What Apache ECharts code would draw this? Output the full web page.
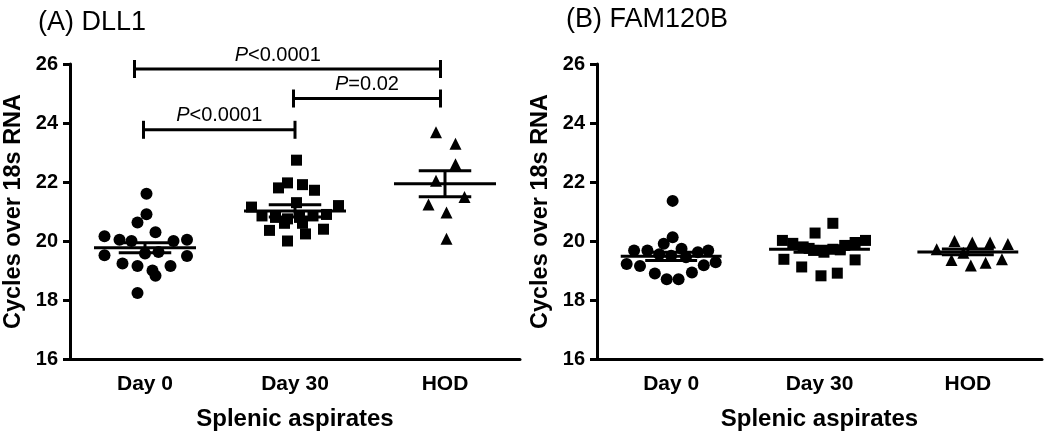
<!DOCTYPE html>
<html><head><meta charset="utf-8">
<script src="https://cdn.jsdelivr.net/npm/echarts@6/dist/echarts.min.js"></script>
<style>html,body{margin:0;padding:0;background:#fff}#c{width:1050px;height:436px}</style>
</head><body><div id="c"></div>
<script>
// ---- data ----
const categories = ['Day 0', 'Day 30', 'HOD'];
const yTicks = [16, 18, 20, 22, 24, 26];

// Panel A: DLL1 (cycles over 18s RNA)
const dll1Day0  = [21.60, 20.91, 20.63, 20.30, 20.16, 20.04, 20.00, 20.00, 20.04, 19.52, 19.49, 19.58, 19.63, 19.24, 19.15, 19.15, 19.00, 18.82, 18.24];
const dll1Day30 = [22.74, 21.97, 21.80, 21.91, 21.72, 21.30, 21.15, 21.20, 20.85, 20.80, 20.75, 20.80, 20.85, 20.90, 20.60, 20.60, 20.36, 20.00, 20.24, 20.40];
const dll1HOD   = [23.69, 23.30, 22.60, 22.04, 21.49, 21.24, 20.97, 20.08];
const dll1Mean  = [19.77, 21.02, 21.94];
const dll1Sem   = [0.17, 0.21, 0.44];

// Panel B: FAM120B
const famDay0  = [21.36, 20.13, 19.91, 19.74, 19.68, 19.68, 19.62, 19.68, 19.55, 19.22, 19.15, 18.90, 18.70, 18.70, 18.93, 19.18, 19.28, 19.50, 19.45];
const famDay30 = [20.60, 20.27, 20.02, 19.92, 19.80, 19.68, 19.62, 19.72, 19.85, 19.95, 20.02, 19.38, 19.12, 18.82, 18.91, 19.36, 19.75, 19.70];
const famHOD   = [19.72, 20.00, 19.95, 19.95, 19.90, 19.36, 19.17, 19.26, 19.38, 19.60];
const famMean  = [19.48, 19.72, 19.63];
const famSem   = [0.14, 0.10, 0.10];

// horizontal scatter offsets (fraction of category width), same order as values
const jitDll1Day0  = [0.01, 0.01, -0.05, 0.07, -0.27, -0.17, -0.09, 0.19, 0.28, -0.27, 0.28, 0.00, 0.09, -0.15, -0.05, 0.17, 0.05, 0.07, -0.05];
const jitDll1Day30 = [0.01, -0.05, -0.11, 0.05, 0.13, 0.01, -0.29, 0.29, -0.22, -0.13, -0.05, 0.03, 0.12, 0.21, -0.07, 0.05, -0.17, -0.05, 0.07, 0.19];
const jitDll1HOD   = [-0.06, 0.07, 0.07, -0.06, 0.13, -0.11, 0.01, 0.01];
const jitFamDay0   = [0.01, 0.01, -0.05, 0.07, -0.25, -0.16, 0.18, 0.25, -0.08, -0.30, -0.21, -0.11, -0.03, 0.05, 0.14, 0.22, 0.30, 0.00, 0.10];
const jitFamDay30  = [0.09, -0.03, -0.25, -0.18, -0.11, -0.04, 0.03, 0.09, 0.17, 0.24, 0.31, -0.24, -0.12, 0.01, 0.12, 0.24, -0.07, 0.14];
const jitFamHOD    = [-0.21, -0.09, 0.03, 0.15, 0.27, -0.11, 0.02, 0.12, 0.23, -0.03];

// significance brackets (panel A): from, to, height, label position
const bracketFrom   = [-0.07, 0.99, -0.01];
const bracketTo     = [1.97, 1.97, 1.00];
const bracketY      = [25.83, 24.83, 23.77];
const bracketLabelX = [0.885, 1.48, 0.495];
const bracketLabels = ['{i|P}<0.0001', '{i|P}=0.02', '{i|P}<0.0001'];

// ---- chart ----
const FONT = 'Arial, "Liberation Sans", sans-serif';
const chart = echarts.init(document.getElementById('c'), null, {renderer: 'canvas'});

function pts(vals, jit, idx) { return vals.map((v, i) => [idx + jit[i], v]); }

function meanSemItem(params, api) {
  const idx = api.value(0), m = api.value(1), s = api.value(2);
  const c = api.coord([idx, m]);
  const t = api.coord([idx, m + s]);
  const b = api.coord([idx, m - s]);
  const w = api.size([1, 0])[0];
  const lw = w * 0.34, sw = w * 0.175;
  const st = {stroke: '#000', lineWidth: 3};
  return {type: 'group', children: [
    {type: 'line', shape: {x1: c[0] - lw, y1: c[1], x2: c[0] + lw, y2: c[1]}, style: st},
    {type: 'line', shape: {x1: c[0], y1: t[1], x2: c[0], y2: b[1]}, style: st},
    {type: 'line', shape: {x1: c[0] - sw, y1: t[1], x2: c[0] + sw, y2: t[1]}, style: st},
    {type: 'line', shape: {x1: c[0] - sw, y1: b[1], x2: c[0] + sw, y2: b[1]}, style: st}
  ]};
}

function bracketItem(params, api) {
  const p1 = api.coord([api.value(0), api.value(2)]);
  const p2 = api.coord([api.value(1), api.value(2)]);
  const lx = api.coord([api.value(3), api.value(2)])[0];
  const cap = 9;
  const st = {stroke: '#000', lineWidth: 3};
  return {type: 'group', children: [
    {type: 'line', shape: {x1: p1[0], y1: p1[1], x2: p2[0], y2: p2[1]}, style: st},
    {type: 'line', shape: {x1: p1[0], y1: p1[1] - cap, x2: p1[0], y2: p1[1] + cap}, style: st},
    {type: 'line', shape: {x1: p2[0], y1: p2[1] - cap, x2: p2[0], y2: p2[1] + cap}, style: st},
    {type: 'text', x: lx, y: p1[1] - 14, style: {
      text: bracketLabels[params.dataIndex], fill: '#000', fontSize: 20, fontFamily: FONT,
      align: 'center', verticalAlign: 'middle',
      rich: {i: {fontStyle: 'italic', fontSize: 20, fontFamily: FONT, fill: '#000'}}
    }}
  ]};
}

const grids = [
  {left: 70, top: 64, width: 450, height: 300},
  {left: 597, top: 64, width: 445, height: 300}
];

function catAxis(gi) {
  return {
    type: 'category', gridIndex: gi, data: categories, boundaryGap: true,
    axisLine: {onZero: false, lineStyle: {color: '#000', width: 3}},
    axisTick: {alignWithLabel: true, length: 9, lineStyle: {color: '#000', width: 3}},
    axisLabel: {color: '#000', fontSize: 21, fontWeight: 'bold', fontFamily: FONT, margin: 15},
    name: 'Splenic aspirates', nameLocation: 'middle', nameGap: 48,
    nameTextStyle: {color: '#000', fontSize: 24, fontWeight: 'bold', fontFamily: FONT},
    splitLine: {show: false}
  };
}
function valXAxis(gi) {
  return {type: 'value', gridIndex: gi, min: -0.5, max: 2.5, show: false, splitLine: {show: false}};
}
function yAxis(gi) {
  return {
    type: 'value', gridIndex: gi, min: yTicks[0], max: yTicks[yTicks.length - 1], interval: 2,
    axisLine: {show: true, onZero: false, lineStyle: {color: '#000', width: 3}},
    axisTick: {show: true, length: 7, lineStyle: {color: '#000', width: 3}},
    axisLabel: {color: '#000', fontSize: 20, fontWeight: 'bold', fontFamily: FONT, margin: 12},
    splitLine: {show: false},
    name: 'Cycles over 18s RNA', nameLocation: 'middle', nameGap: 44,
    nameTextStyle: {color: '#000', fontSize: 23.5, fontWeight: 'bold', fontFamily: FONT}
  };
}

function scatter(xi, yi, data, symbol, size) {
  return {type: 'scatter', xAxisIndex: xi, yAxisIndex: yi, data: data, symbol: symbol,
    symbolSize: size, itemStyle: {color: '#000', opacity: 1}, z: 3, silent: true};
}

const series = [
  scatter(2, 0, pts(dll1Day0, jitDll1Day0, 0), 'circle', 12),
  scatter(2, 0, pts(dll1Day30, jitDll1Day30, 1), 'rect', 11),
  scatter(2, 0, pts(dll1HOD, jitDll1HOD, 2), 'triangle', 12),
  scatter(3, 1, pts(famDay0, jitFamDay0, 0), 'circle', 12),
  scatter(3, 1, pts(famDay30, jitFamDay30, 1), 'rect', 11),
  scatter(3, 1, pts(famHOD, jitFamHOD, 2), 'triangle', 12),
  {type: 'custom', xAxisIndex: 2, yAxisIndex: 0, renderItem: meanSemItem, z: 4, silent: true,
    data: dll1Mean.map((m, i) => [i, m, dll1Sem[i]])},
  {type: 'custom', xAxisIndex: 3, yAxisIndex: 1, renderItem: meanSemItem, z: 4, silent: true,
    data: famMean.map((m, i) => [i, m, famSem[i]])},
  {type: 'custom', xAxisIndex: 2, yAxisIndex: 0, renderItem: bracketItem, z: 4, silent: true, clip: false,
    data: bracketFrom.map((f, i) => [f, bracketTo[i], bracketY[i], bracketLabelX[i]])}
];

chart.setOption({
  animation: false,
  backgroundColor: '#fff',
  title: [
    {text: '(A) DLL1', left: 33, top: 4, textStyle: {color: '#000', fontSize: 27, fontWeight: 'normal', fontFamily: FONT}},
    {text: '(B) FAM120B', left: 561, top: 1, textStyle: {color: '#000', fontSize: 27, fontWeight: 'normal', fontFamily: FONT}}
  ],
  grid: grids,
  xAxis: [catAxis(0), catAxis(1), valXAxis(0), valXAxis(1)],
  yAxis: [yAxis(0), yAxis(1)],
  series: series
});
</script>
</body></html>
